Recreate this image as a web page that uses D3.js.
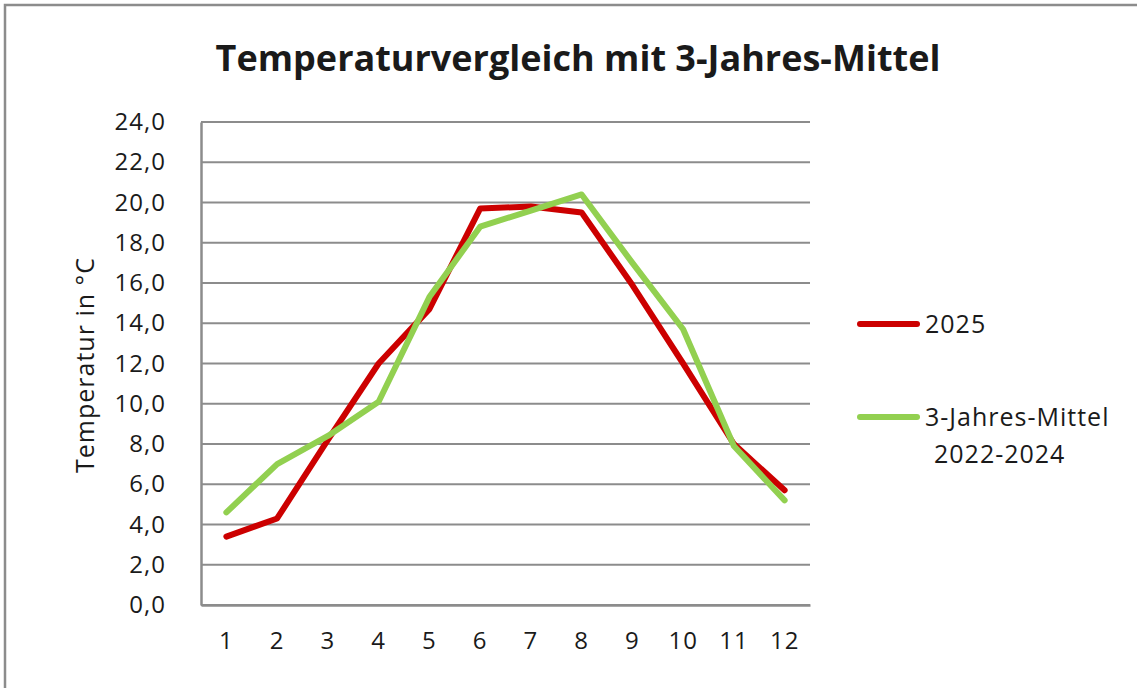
<!DOCTYPE html>
<html>
<head>
<meta charset="utf-8">
<script src="https://cdn.jsdelivr.net/npm/d3@7"></script>
<style>
  body { margin: 0; background: #fff; }
  text { font-family: "Open Sans", "Liberation Sans", sans-serif; fill: #1a1a1a; }
</style>
</head>
<body>
<div id="chart"></div>
<script>
const months = [1, 2, 3, 4, 5, 6, 7, 8, 9, 10, 11, 12];
const temp2025 = [3.4, 4.3, 8.2, 12.0, 14.7, 19.7, 19.8, 19.5, 15.9, 12.0, 8.0, 5.7];
const tempMittel = [4.6, 7.0, 8.4, 10.1, 15.3, 18.8, 19.6, 20.4, 17.0, 13.7, 7.9, 5.2];
const yTicks = [0, 2, 4, 6, 8, 10, 12, 14, 16, 18, 20, 22, 24];

const width = 1137;
const height = 688;
const margin = { top: 122, right: 327, bottom: 83, left: 201 };

const svg = d3.select("#chart").append("svg").attr("width", width).attr("height", height);

// outer chart frame
svg.append("rect")
  .attr("x", 5).attr("y", 5)
  .attr("width", width).attr("height", height)
  .attr("fill", "none").attr("stroke", "#8c8c8c").attr("stroke-width", 2.5);

const x = d3.scaleBand().domain(months).range([margin.left, width - margin.right]);
const y = d3.scaleLinear().domain([0, 24]).range([height - margin.bottom, margin.top]);

// gridlines
svg.append("g")
  .selectAll("line")
  .data(yTicks)
  .join("line")
  .attr("x1", margin.left).attr("x2", width - margin.right)
  .attr("y1", d => y(d)).attr("y2", d => y(d))
  .attr("stroke", "#8c8c8c").attr("stroke-width", 2);

// y axis
const yAxis = svg.append("g")
  .attr("transform", `translate(${margin.left},0)`)
  .call(d3.axisLeft(y).tickValues(yTicks).tickSize(0).tickPadding(35)
    .tickFormat(d => d3.format(".1f")(d).replace(".", ",")));
yAxis.select(".domain").attr("stroke", "#8c8c8c").attr("stroke-width", 2.5);
yAxis.selectAll("text").style("font-size", "24px").style("letter-spacing", "1px").attr("fill", "#1a1a1a");

// x axis
const xAxis = svg.append("g")
  .attr("transform", `translate(0,${height - margin.bottom})`)
  .call(d3.axisBottom(x).tickSize(0).tickPadding(27));
xAxis.select(".domain").attr("stroke", "#8c8c8c").attr("stroke-width", 2.5);
xAxis.selectAll("text").style("font-size", "24px").style("letter-spacing", "1px").attr("fill", "#1a1a1a");

const line = d3.line()
  .x((d, i) => x(months[i]) + x.bandwidth() / 2)
  .y(d => y(d));

svg.append("path")
  .datum(temp2025)
  .attr("d", line)
  .attr("fill", "none").attr("stroke", "#cc0000").attr("stroke-width", 6)
  .attr("stroke-linejoin", "round").attr("stroke-linecap", "round");

svg.append("path")
  .datum(tempMittel)
  .attr("d", line)
  .attr("fill", "none").attr("stroke", "#92d050").attr("stroke-width", 6)
  .attr("stroke-linejoin", "round").attr("stroke-linecap", "round");

// title
svg.append("text")
  .attr("x", 578).attr("y", 71)
  .attr("text-anchor", "middle")
  .style("font-size", "36px").style("font-weight", "bold")
  .attr("fill", "#000")
  .text("Temperaturvergleich mit 3-Jahres-Mittel");

// y axis title
svg.append("text")
  .attr("transform", "translate(94,365) rotate(-90)")
  .attr("text-anchor", "middle")
  .style("font-size", "25px").style("letter-spacing", "1px")
  .text("Temperatur in °C");

// legend
const legend = [
  { label: ["2025"], color: "#cc0000", y: 324 },
  { label: ["3-Jahres-Mittel", "2022-2024"], color: "#92d050", y: 417 }
];
const lg = svg.append("g");
legend.forEach(d => {
  lg.append("line")
    .attr("x1", 860).attr("x2", 917)
    .attr("y1", d.y).attr("y2", d.y)
    .attr("stroke", d.color).attr("stroke-width", 6).attr("stroke-linecap", "round");
  d.label.forEach((t, i) => {
    lg.append("text")
      .attr("x", i === 0 ? 925 : 934).attr("y", d.y + i * 37)
      .attr("dy", "0.35em")
      .style("font-size", "25px").style("letter-spacing", "1px")
      .text(t);
  });
});
</script>
</body>
</html>
